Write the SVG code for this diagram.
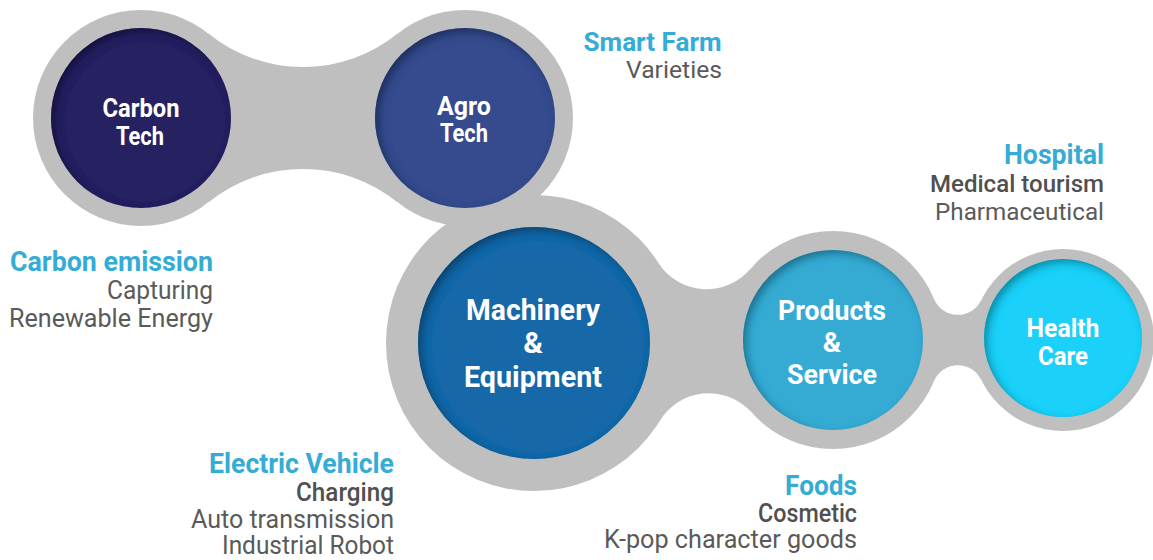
<svg xmlns="http://www.w3.org/2000/svg" width="1153" height="560" viewBox="0 0 1153 560">
<defs>
<style>
.gray{fill:#bfbfbf}
.nl{font-family:Roboto,"Liberation Sans",sans-serif;font-weight:700;fill:#ffffff;text-anchor:middle}
.hd{font-family:Roboto,"Liberation Sans",sans-serif;font-weight:700;fill:#35acd6;text-anchor:end}
.b1{font-family:Roboto,"Liberation Sans",sans-serif;font-weight:500;fill:#505050;text-anchor:end}
.b2{font-family:Roboto,"Liberation Sans",sans-serif;font-weight:400;fill:#5a5a5a;text-anchor:end}
</style>
<filter id="inset" x="-20%" y="-20%" width="140%" height="140%">
<feFlood flood-color="#000" flood-opacity="0.6" result="c"/>
<feComposite in="c" in2="SourceAlpha" operator="out" result="inv"/>
<feGaussianBlur in="inv" stdDeviation="4" result="blur"/>
<feOffset in="blur" dx="4" dy="4" result="off"/>
<feComposite in="off" in2="SourceAlpha" operator="in" result="sh"/>
<feMerge><feMergeNode in="SourceGraphic"/><feMergeNode in="sh"/></feMerge>
</filter>
</defs>
<rect width="1153" height="560" fill="#ffffff"/>
<g id="connectors">
<circle class="gray" cx="141" cy="118" r="108"/>
<circle class="gray" cx="465" cy="118" r="108"/>
<circle class="gray" cx="534" cy="343" r="148"/>
<circle class="gray" cx="833" cy="340" r="109"/>
<circle class="gray" cx="1063" cy="340" r="91"/>
<path class="gray" d="M208.6 33.8 A150.7 150.7 0 0 0 397.4 33.8 L397.4 202.2 A150.7 150.7 0 0 0 208.6 202.2 Z"/>
<path class="gray" d="M659.3 264.2 A57.2 57.2 0 0 0 750.8 268.4 L750.8 411.6 A57.2 57.2 0 0 0 659.3 421.8 Z"/>
<path class="gray" d="M934 298.9 A25.8 25.8 0 0 0 981 300.4 L981 379.6 A25.8 25.8 0 0 0 934 381.1 Z"/>
</g>
<g id="carbon-tech">
<circle cx="141" cy="118" r="90" fill="#272262" filter="url(#inset)"/>
<text class="nl" x="141" y="116.5" font-size="25" textLength="77" lengthAdjust="spacingAndGlyphs">Carbon</text>
<text class="nl" x="140" y="145" font-size="25" textLength="48" lengthAdjust="spacingAndGlyphs">Tech</text>
</g>
<g id="agro-tech">
<circle cx="465" cy="118" r="90" fill="#354c8e" filter="url(#inset)"/>
<text class="nl" x="464" y="115" font-size="25" textLength="54" lengthAdjust="spacingAndGlyphs">Agro</text>
<text class="nl" x="464" y="142" font-size="25" textLength="48" lengthAdjust="spacingAndGlyphs">Tech</text>
</g>
<g id="machinery-equipment">
<circle cx="534" cy="343" r="116" fill="#1467a8" filter="url(#inset)"/>
<text class="nl" x="533" y="320" font-size="30" textLength="134" lengthAdjust="spacingAndGlyphs">Machinery</text>
<text class="nl" x="533" y="353" font-size="30">&amp;</text>
<text class="nl" x="533" y="387" font-size="30" textLength="138" lengthAdjust="spacingAndGlyphs">Equipment</text>
</g>
<g id="products-service">
<circle cx="833" cy="340" r="90" fill="#34abd4" filter="url(#inset)"/>
<text class="nl" x="832" y="320" font-size="28" textLength="108" lengthAdjust="spacingAndGlyphs">Products</text>
<text class="nl" x="832" y="352" font-size="28">&amp;</text>
<text class="nl" x="832" y="384" font-size="28" textLength="90" lengthAdjust="spacingAndGlyphs">Service</text>
</g>
<g id="health-care">
<circle cx="1063" cy="338" r="79" fill="#1bd1f9" filter="url(#inset)"/>
<text class="nl" x="1063" y="337" font-size="26" textLength="73" lengthAdjust="spacingAndGlyphs">Health</text>
<text class="nl" x="1063" y="365" font-size="26" textLength="50" lengthAdjust="spacingAndGlyphs">Care</text>
</g>
<g id="label-smart-farm">
<text class="hd" x="721.5" y="51" font-size="26" textLength="138" lengthAdjust="spacingAndGlyphs">Smart Farm</text>
<text class="b2" x="722" y="77.5" font-size="23" textLength="96" lengthAdjust="spacingAndGlyphs">Varieties</text>
</g>
<g id="label-hospital">
<text class="hd" x="1104" y="163.5" font-size="27" textLength="100" lengthAdjust="spacingAndGlyphs">Hospital</text>
<text class="b1" x="1104" y="191.5" font-size="24" textLength="174" lengthAdjust="spacingAndGlyphs">Medical tourism</text>
<text class="b2" x="1104" y="219.5" font-size="24" textLength="169" lengthAdjust="spacingAndGlyphs">Pharmaceutical</text>
</g>
<g id="label-carbon-emission">
<text class="hd" x="213" y="270.5" font-size="27" textLength="203" lengthAdjust="spacingAndGlyphs">Carbon emission</text>
<text class="b2" x="213" y="299" font-size="25" textLength="106" lengthAdjust="spacingAndGlyphs">Capturing</text>
<text class="b2" x="213" y="326.5" font-size="25" textLength="204" lengthAdjust="spacingAndGlyphs">Renewable Energy</text>
</g>
<g id="label-electric-vehicle">
<text class="hd" x="394" y="472.5" font-size="27" textLength="185" lengthAdjust="spacingAndGlyphs">Electric Vehicle</text>
<text class="b1" x="394" y="500.5" font-size="25" textLength="98" lengthAdjust="spacingAndGlyphs">Charging</text>
<text class="b2" x="394" y="527.5" font-size="25" textLength="203" lengthAdjust="spacingAndGlyphs">Auto transmission</text>
<text class="b2" x="394" y="554" font-size="25" textLength="172" lengthAdjust="spacingAndGlyphs">Industrial Robot</text>
</g>
<g id="label-foods">
<text class="hd" x="857" y="494.5" font-size="27" textLength="72" lengthAdjust="spacingAndGlyphs">Foods</text>
<text class="b1" x="857" y="521.5" font-size="25" textLength="99" lengthAdjust="spacingAndGlyphs">Cosmetic</text>
<text class="b2" x="857" y="548" font-size="25" textLength="253" lengthAdjust="spacingAndGlyphs">K-pop character goods</text>
</g>
</svg>
